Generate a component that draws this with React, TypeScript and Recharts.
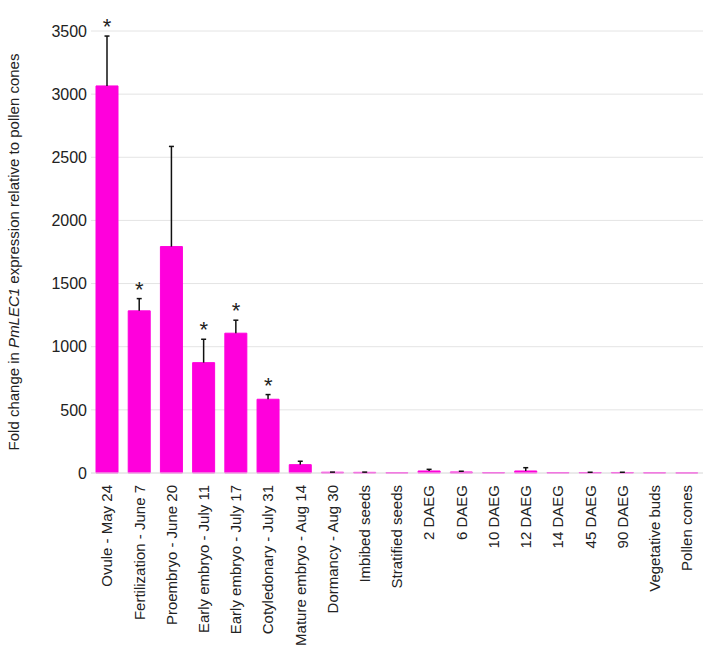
import React from 'react';
import { ComposedChart, Bar, Scatter, LabelList, XAxis, YAxis, CartesianGrid, Label } from 'recharts';

const categories = [
  'Ovule - May 24', 'Fertilization - June 7', 'Proembryo - June 20', 'Early embryo - July 11',
  'Early embryo - July 17', 'Cotyledonary - July 31', 'Mature embryo - Aug 14', 'Dormancy - Aug 30',
  'Imbibed seeds', 'Stratified seeds', '2 DAEG', '6 DAEG', '10 DAEG', '12 DAEG', '14 DAEG',
  '45 DAEG', '90 DAEG', 'Vegetative buds', 'Pollen cones',
];
const foldChange = [3065, 1284, 1793, 874, 1107, 584, 66, 6, 5, 2, 16, 8, 3, 16, 3, 4, 4, 2, 1];
const upperError = [395, 97, 793, 185, 103, 37, 27, 1, 2, 0, 13, 6, 0, 26, 0, 2, 2, 0, 0];
const significant = [true, true, false, true, true, true, false, false, false, false, false, false, false, false, false, false, false, false, false];
const yTicks = [0, 500, 1000, 1500, 2000, 2500, 3000, 3500];

const font = '"Liberation Sans", Arial, sans-serif';
const textColor = '#222';
const barColor = '#ff00dc';

const data = categories.map((name, i) => ({
  name,
  value: foldChange[i],
  star: significant[i] ? foldChange[i] + upperError[i] : null,
}));

const XTick = ({ x, y, payload }: any) => (
  <text
    x={x}
    y={y + 10}
    transform={`rotate(-90, ${x}, ${y + 10})`}
    textAnchor="end"
    dy="0.35em"
    fontSize={15}
    fontFamily={font}
    fill={textColor}
  >
    {payload.value}
  </text>
);

// upper-only error whisker, scaled from the bar's own pixel height
const Whisker = ({ x, y, width, height, value, index }: any) => {
  const err = upperError[index];
  if (!err || !value) return null;
  const px = (height / value) * err;
  const cx = x + width / 2;
  return (
    <g stroke="#111" strokeWidth={1.5}>
      <line x1={cx} y1={y} x2={cx} y2={y - px} />
      <line x1={cx - 2.5} y1={y - px} x2={cx + 2.5} y2={y - px} />
    </g>
  );
};

const Star = ({ cx, cy }: any) =>
  cx == null || cy == null ? null : (
    <text x={cx} y={cy - 2} textAnchor="middle" fontSize={22} fontFamily={font} fill={textColor}>
      *
    </text>
  );

const YLabel = () => (
  <text
    x={14}
    y={252}
    transform="rotate(-90, 14, 252)"
    textAnchor="middle"
    dy="0.35em"
    fontSize={15}
    fontFamily={font}
    fill={textColor}
  >
    Fold change in <tspan fontStyle="italic">PmLEC1</tspan> expression relative to pollen cones
  </text>
);

export default function App() {
  return (
    <div style={{ position: 'absolute', left: 0, top: 0, background: '#fff' }}>
      <ComposedChart width={709} height={645} data={data} margin={{ top: 31, right: 6, bottom: 0, left: 0 }}>
        <CartesianGrid vertical={false} stroke="#e4e4e4" />
        <XAxis
          dataKey="name"
          interval={0}
          axisLine={{ stroke: '#e4e4e4' }}
          tickLine={false}
          tickSize={0}
          height={172}
          tick={<XTick />}
        />
        <YAxis
          domain={[0, 3500]}
          ticks={yTicks}
          width={91}
          axisLine={false}
          tickLine={false}
          tickSize={0}
          tickMargin={4}
          tick={{ fontSize: 16, fontFamily: font, fill: textColor }}
        >
          <Label content={<YLabel />} />
        </YAxis>
        <Bar dataKey="value" fill={barColor} stroke={barColor} strokeWidth={1} barSize={22} isAnimationActive={false}>
          <LabelList dataKey="value" content={<Whisker />} />
        </Bar>
        <Scatter dataKey="star" shape={<Star />} isAnimationActive={false} />
      </ComposedChart>
    </div>
  );
}
